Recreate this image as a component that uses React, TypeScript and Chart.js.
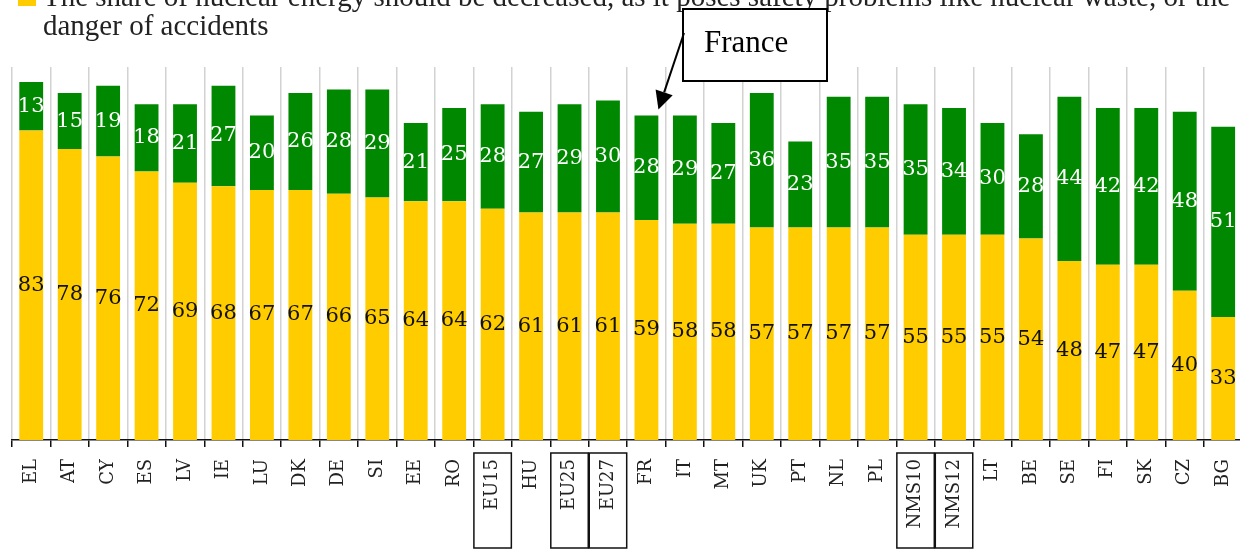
import React, { useEffect, useRef } from "react";
import { Chart, registerables } from "chart.js";

Chart.register(...registerables);

const categories = [
  "EL", "AT", "CY", "ES", "LV", "IE", "LU", "DK", "DE", "SI", "EE", "RO",
  "EU15", "HU", "EU25", "EU27", "FR", "IT", "MT", "UK", "PT", "NL", "PL",
  "NMS10", "NMS12", "LT", "BE", "SE", "FI", "SK", "CZ", "BG",
];

const decreaseValues = [
  83, 78, 76, 72, 69, 68, 67, 67, 66, 65, 64, 64, 62, 61, 61, 61, 59, 58, 58,
  57, 57, 57, 57, 55, 55, 55, 54, 48, 47, 47, 40, 33,
];

const otherValues = [
  13, 15, 19, 18, 21, 27, 20, 26, 28, 29, 21, 25, 28, 27, 29, 30, 28, 29, 27,
  36, 23, 35, 35, 35, 34, 30, 28, 44, 42, 42, 48, 51,
];

const boxedCategories = ["EU15", "EU25", "EU27", "NMS10", "NMS12"];

const legendLine1 =
  "The share of nuclear energy should be decreased, as it poses safety problems like nuclear waste, or the";
const legendLine2 = "danger of accidents";
const annotationText = "France";
const annotationCategory = "FR";

const YELLOW = "#FFCC00";
const GREEN = "#008800";

const overlayPlugin = {
  id: "overlay",
  afterDatasetsDraw(chart: any) {
    const ctx = chart.ctx;
    ctx.save();
    ctx.font = "21px 'DejaVu Serif'";
    ctx.textAlign = "center";
    ctx.textBaseline = "middle";
    chart.data.datasets.forEach((ds: any, di: number) => {
      const meta = chart.getDatasetMeta(di);
      ctx.fillStyle = di === 0 ? "#111111" : "#ffffff";
      meta.data.forEach((el: any, i: number) => {
        const y = (el.y + el.base) / 2;
        ctx.fillText(String(ds.data[i]), el.x, y);
      });
    });
    ctx.restore();
  },
  afterDraw(chart: any) {
    const ctx = chart.ctx;
    const xScale = chart.scales.x;
    const n = chart.data.labels.length;
    const cw = (chart.chartArea.right - chart.chartArea.left) / n;

    ctx.save();
    ctx.strokeStyle = "#111";
    ctx.lineWidth = 1.5;
    chart.data.labels.forEach((lab: string, i: number) => {
      if (boxedCategories.includes(lab)) {
        const cx = xScale.getPixelForValue(i);
        ctx.strokeRect(cx - cw / 2 + 0.5, 453, cw - 1, 95);
      }
    });
    ctx.restore();

    ctx.save();
    ctx.fillStyle = YELLOW;
    ctx.fillRect(18, -12, 18, 18);
    ctx.fillStyle = "#222";
    ctx.font = "29px 'Liberation Serif'";
    ctx.textAlign = "left";
    ctx.textBaseline = "alphabetic";
    ctx.fillText(legendLine1, 43, 6);
    ctx.fillText(legendLine2, 43, 35);
    ctx.restore();

    const fi = chart.data.labels.indexOf(annotationCategory);
    const meta1 = chart.getDatasetMeta(1);
    const el = meta1.data[fi];
    ctx.save();
    ctx.fillStyle = "#fff";
    ctx.strokeStyle = "#000";
    ctx.lineWidth = 2;
    ctx.fillRect(683, 9, 144, 72);
    ctx.strokeRect(683, 9, 144, 72);
    ctx.fillStyle = "#000";
    ctx.font = "31px 'Liberation Serif'";
    ctx.textAlign = "left";
    ctx.textBaseline = "alphabetic";
    ctx.fillText(annotationText, 704, 52);
    const sx = 684, sy = 33;
    const tx = el.x + 12, ty = el.y - 6;
    const ang = Math.atan2(ty - sy, tx - sx);
    const hl = 18, hw = 9;
    const bx = tx - hl * Math.cos(ang), by = ty - hl * Math.sin(ang);
    ctx.beginPath();
    ctx.moveTo(sx, sy);
    ctx.lineTo(bx, by);
    ctx.stroke();
    ctx.beginPath();
    ctx.moveTo(tx, ty);
    ctx.lineTo(bx + hw * Math.sin(ang), by - hw * Math.cos(ang));
    ctx.lineTo(bx - hw * Math.sin(ang), by + hw * Math.cos(ang));
    ctx.closePath();
    ctx.fill();
    ctx.restore();
  },
};

export default function App() {
  const ref = useRef<HTMLCanvasElement | null>(null);
  useEffect(() => {
    if (!ref.current) return;
    const chart = new Chart(ref.current, {
      type: "bar",
      data: {
        labels: categories,
        datasets: [
          {
            label: "decrease",
            data: decreaseValues,
            backgroundColor: YELLOW,
            barPercentage: 0.62,
            categoryPercentage: 1,
          },
          {
            label: "other",
            data: otherValues,
            backgroundColor: GREEN,
            barPercentage: 0.62,
            categoryPercentage: 1,
          },
        ],
      },
      options: {
        responsive: false,
        animation: false,
        devicePixelRatio: 1,
        layout: { padding: { left: 12, right: 17.6, top: 67, bottom: 0 } },
        plugins: {
          legend: { display: false },
          tooltip: { enabled: false },
          title: { display: false },
        },
        scales: {
          x: {
            stacked: true,
            offset: true,
            grid: {
              offset: true,
              color: "#d2d2d2",
              lineWidth: 1.5,
              tickColor: "#111",
              tickLength: 7,
              drawOnChartArea: true,
            },
            border: { display: true, color: "#111", width: 1.5 },
            ticks: {
              minRotation: 90,
              maxRotation: 90,
              autoSkip: false,
              padding: 12,
              color: "#222",
              font: { family: "'DejaVu Serif'", size: 18 },
            },
            afterFit: (scale: any) => {
              scale.height = 110;
            },
          },
          y: {
            stacked: true,
            display: false,
            min: 0,
            max: 100,
          },
        },
      },
      plugins: [overlayPlugin],
    });
    return () => chart.destroy();
  }, []);
  return (
    <div
      style={{
        position: "absolute",
        left: 0,
        top: 0,
        width: 1240,
        height: 550,
        overflow: "hidden",
        background: "#fff",
      }}
    >
      <canvas ref={ref} width={1260} height={550} style={{ display: "block" }} />
    </div>
  );
}
